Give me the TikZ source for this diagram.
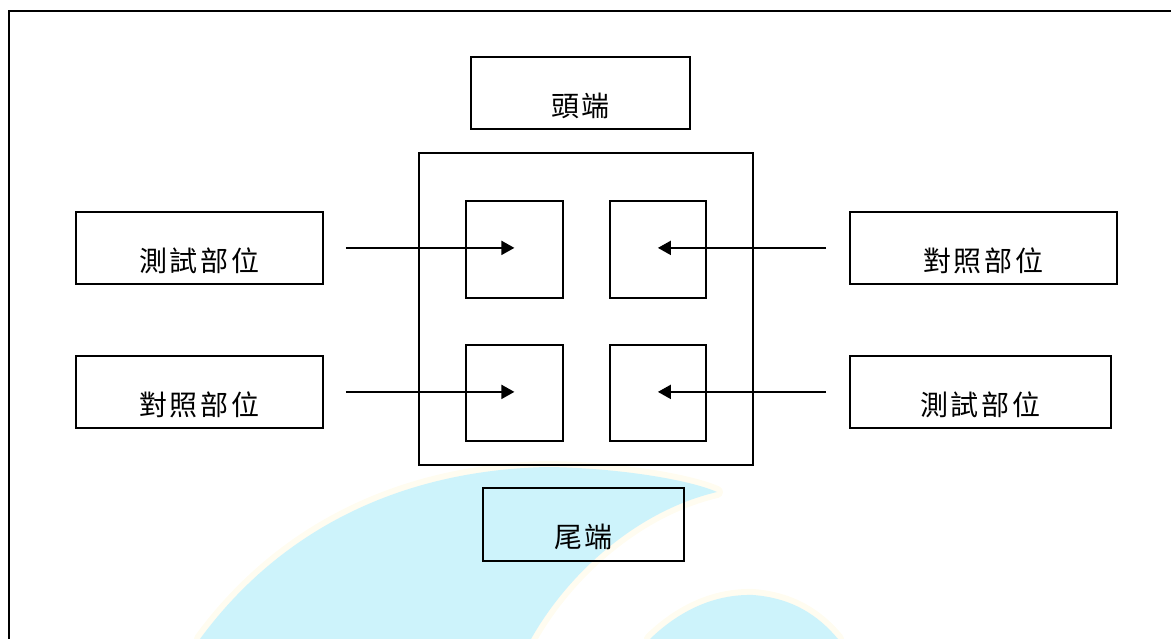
\documentclass[tikz,border=0pt]{standalone}
\usepackage{fontspec}
\newfontfamily\cjkfont{Noto Sans CJK TC}[LetterSpace=10]
\usetikzlibrary{arrows.meta}
\definecolor{wmblue}{RGB}{205,243,251}
\definecolor{wmyellow}{RGB}{255,252,240}
\tikzset{
  boxst/.style={draw, line width=1.8pt, inner sep=0pt, anchor=north west},
  txt/.style={font=\cjkfont\fontsize{28}{31}\selectfont, inner sep=0pt},
  arr/.style={line width=2pt, -{Triangle[length=13pt,width=14pt]}},
}
\begin{document}
\begin{tikzpicture}[x=1pt,y=-1pt]
\useasboundingbox (0,0) rectangle (1171,639);
% watermark
\begin{scope}
\clip (0,0) rectangle (1171,639);
\path[draw=wmyellow, line width=12pt, line join=round]
  (200,639) .. controls (280,530) and (400,470) .. (548,467)
  .. controls (620,468) and (690,480) .. (717,492)
  .. controls (640,510) and (570,570) .. (531,639) -- cycle;
\path[draw=wmyellow, line width=12pt, line join=round]
  (650,639) .. controls (680,610) and (715,594) .. (753,595)
  .. controls (792,598) and (818,615) .. (838,639) -- cycle;
\fill[wmblue]
  (200,639) .. controls (280,530) and (400,470) .. (548,467)
  .. controls (620,468) and (690,480) .. (717,492)
  .. controls (640,510) and (570,570) .. (531,639) -- cycle;
\fill[wmblue]
  (650,639) .. controls (680,610) and (715,594) .. (753,595)
  .. controls (792,598) and (818,615) .. (838,639) -- cycle;
\end{scope}
% frame
\coordinate (fr1) at (1171,11);
\coordinate (fr2) at (9,11);
\coordinate (fr3) at (9,639);
\draw[line width=2.4pt] (fr1) -- (fr2) -- (fr3);
% head and tail
\node[boxst, minimum width=219pt, minimum height=72pt,
  label={[txt, yshift=-13pt]center:頭端}] (head) at (470,56) {};
\node[boxst, minimum width=201pt, minimum height=73pt,
  label={[txt, yshift=-13pt]center:尾端}] (tail) at (482,487) {};
% central box
\node[boxst, minimum width=334pt, minimum height=312pt] (outer) at (418,152) {};
\node[boxst, minimum width=97pt, minimum height=97pt] (itl) at (465,200) {};
\node[boxst, minimum width=96pt, minimum height=97pt] (itr) at (609,200) {};
\node[boxst, minimum width=97pt, minimum height=96pt] (ibl) at (465,344) {};
\node[boxst, minimum width=96pt, minimum height=96pt] (ibr) at (609,344) {};
% side boxes
\node[boxst, minimum width=247pt, minimum height=72pt,
  label={[txt, yshift=-13pt]center:測試部位}] (ltop) at (75,211) {};
\node[boxst, minimum width=247pt, minimum height=72pt,
  label={[txt, yshift=-13pt]center:對照部位}] (lbot) at (75,355) {};
\node[boxst, minimum width=267pt, minimum height=72pt,
  label={[txt, yshift=-13pt]center:對照部位}] (rtop) at (849,211) {};
\node[boxst, minimum width=261pt, minimum height=72pt,
  label={[txt, yshift=-13pt]center:測試部位}] (rbot) at (849,355) {};
% arrows
\draw[arr] ([xshift=22pt]ltop.east) -- (ltop.east -| itl.center);
\draw[arr] ([xshift=22pt]lbot.east) -- (lbot.east -| ibl.center);
\draw[arr] ([xshift=-23pt]rtop.west) -- (rtop.west -| itr.center);
\draw[arr] ([xshift=-23pt]rbot.west) -- (rbot.west -| ibr.center);
\end{tikzpicture}
\end{document}
